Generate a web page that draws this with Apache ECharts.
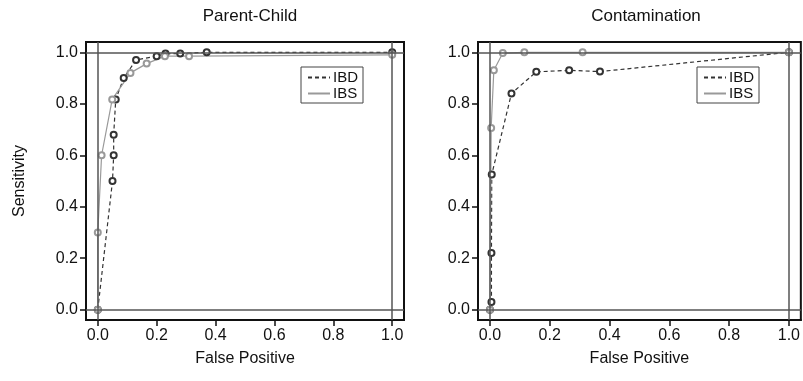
<!DOCTYPE html>
<html>
<head>
<meta charset="utf-8">
<script src="https://cdn.jsdelivr.net/npm/echarts@6/dist/echarts.min.js"></script>
<style>
  html, body { margin: 0; padding: 0; background: #fff; }
  #chart { width: 803px; height: 381px; }
</style>
</head>
<body>
<div id="chart"></div>
<script>
// tick values and reference lines
const tickValues = [0, 0.2, 0.4, 0.6, 0.8, 1.0]
const refValues = [0, 1]
const panelTitles = ['Parent-Child', 'Contamination']

// Parent-Child: IBD
const pcIbdFp   = [0, 0.05, 0.054, 0.054, 0.061, 0.088, 0.13, 0.2, 0.23, 0.28, 0.37, 1.0]
const pcIbdSens = [0, 0.50, 0.60, 0.68, 0.817, 0.90, 0.97, 0.985, 0.995, 0.995, 1.0, 1.0]
// Parent-Child: IBS
const pcIbsFp   = [0, 0, 0.013, 0.049, 0.111, 0.166, 0.228, 0.31, 1.0]
const pcIbsSens = [0, 0.30, 0.60, 0.817, 0.92, 0.956, 0.985, 0.985, 0.99]

// Contamination: IBD
const ctIbdFp   = [0, 0.005, 0.005, 0.006, 0.072, 0.155, 0.265, 0.368, 1.0]
const ctIbdSens = [0, 0.03, 0.22, 0.525, 0.84, 0.924, 0.93, 0.925, 1.0]
// Contamination: IBS
const ctIbsFp   = [0, 0.004, 0.013, 0.043, 0.115, 0.31, 1.0]
const ctIbsSens = [0, 0.706, 0.93, 0.997, 1.0, 1.0, 1.0]

const zip = (xs, ys) => xs.map((x, i) => [x, ys[i]])

const chart = echarts.init(document.getElementById('chart'))

const font = 'Liberation Sans, Arial, sans-serif'
const ibdColor = '#333'
const ibsColor = '#999'

const grids = [
  { left: 86, top: 42, width: 318, height: 278 },
  { left: 478, top: 42, width: 326, height: 278 }
]

const makeX = (i) => ({
  type: 'value', gridIndex: i, min: -0.04, max: 1.04,
  name: 'False Positive', nameLocation: 'middle', nameGap: 31,
  nameTextStyle: { fontFamily: font, fontSize: 16, color: '#111' },
  axisLine: { show: true, onZero: false, lineStyle: { color: '#111', width: 2 } },
  axisTick: { show: true, customValues: tickValues, length: 6, lineStyle: { color: '#111', width: 1.5 } },
  axisLabel: { customValues: tickValues, formatter: v => v.toFixed(1), fontFamily: font, fontSize: 16, color: '#111', margin: 8 },
  splitLine: { show: false }
})

const makeY = (i) => ({
  type: 'value', gridIndex: i, min: -0.04, max: 1.04,
  name: i === 0 ? 'Sensitivity' : '', nameLocation: 'middle', nameGap: 58,
  nameTextStyle: { fontFamily: font, fontSize: 16, color: '#111' },
  axisLine: { show: true, onZero: false, lineStyle: { color: '#111', width: 2 } },
  axisTick: { show: true, customValues: tickValues, length: 6, lineStyle: { color: '#111', width: 1.5 } },
  axisLabel: { customValues: tickValues, formatter: v => v.toFixed(1), fontFamily: font, fontSize: 16, color: '#111', margin: 8 },
  splitLine: { show: false }
})

const refLine = {
  silent: true,
  symbol: ['none', 'none'],
  label: { show: false },
  lineStyle: { color: '#555', width: 1.5, type: 'solid' },
  data: refValues.map(v => ({ xAxis: v })).concat(refValues.map(v => ({ yAxis: v })))
}

const makeSeries = (name, data, i, color, dashed, withRef) => ({
  name, type: 'line', xAxisIndex: i, yAxisIndex: i, data,
  symbol: 'emptyCircle', symbolSize: 6,
  itemStyle: { color: color, borderColor: color, borderWidth: 0.9 },
  lineStyle: { color: color, width: 1.2, type: dashed ? [4, 3] : 'solid' },
  markLine: withRef ? refLine : undefined,
  animation: false
})

const makeLegend = (left) => ({
  left, top: 67, orient: 'vertical',
  data: ['IBD', 'IBS'],
  borderColor: '#444', borderWidth: 1, borderRadius: 0,
  padding: [3, 5, 2, 6], itemGap: 1, itemWidth: 22, itemHeight: 12,
  itemStyle: { opacity: 0 },
  textStyle: { fontFamily: font, fontSize: 15, color: '#111', padding: [0, 0, 0, -2] },
  selectedMode: false
})

chart.setOption({
  animation: false,
  title: panelTitles.map((t, i) => ({
    text: t, left: i === 0 ? 245 : 641, top: 3, textAlign: 'center',
    textStyle: { fontFamily: font, fontSize: 17, fontWeight: 'normal', color: '#111' }
  })),
  grid: grids.map(g => Object.assign({ show: true, borderColor: '#111', borderWidth: 2, backgroundColor: 'transparent' }, g)),
  xAxis: [makeX(0), makeX(1)],
  yAxis: [makeY(0), makeY(1)],
  legend: [makeLegend(301), makeLegend(697)],
  series: [
    makeSeries('IBD', zip(pcIbdFp, pcIbdSens), 0, ibdColor, true, true),
    makeSeries('IBS', zip(pcIbsFp, pcIbsSens), 0, ibsColor, false, false),
    makeSeries('IBD', zip(ctIbdFp, ctIbdSens), 1, ibdColor, true, true),
    makeSeries('IBS', zip(ctIbsFp, ctIbsSens), 1, ibsColor, false, false)
  ]
})
</script>
</body>
</html>
